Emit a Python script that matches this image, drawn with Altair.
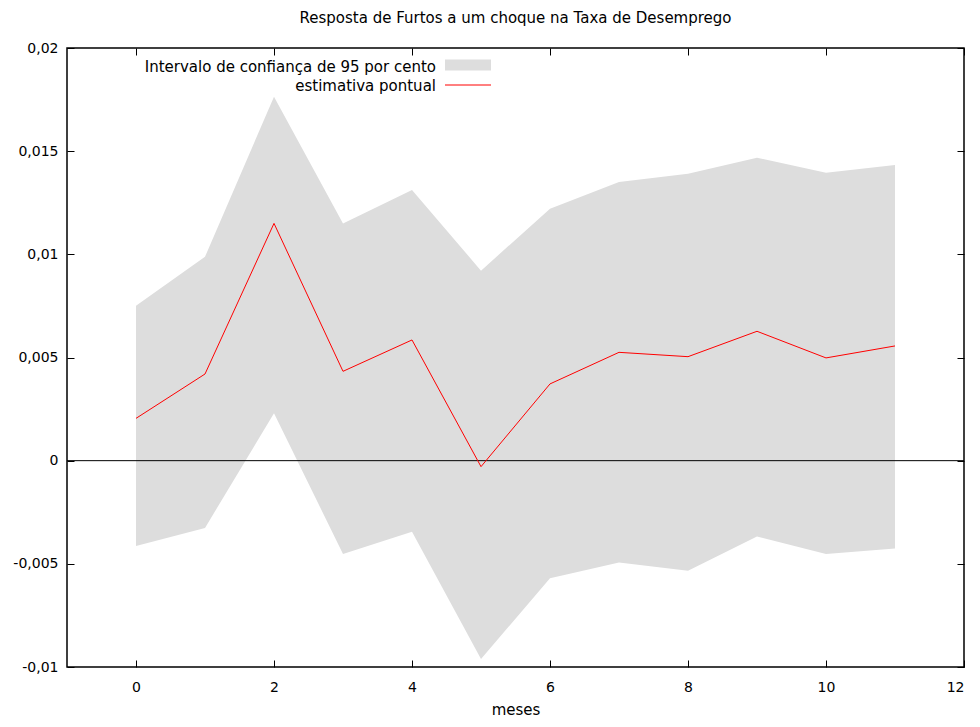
import altair as alt
import pandas as pd

meses = [0, 1, 2, 3, 4, 5, 6, 7, 8, 9, 10, 11]
estimativa = [0.00205, 0.00420, 0.01150, 0.00433, 0.00585, -0.00029,
              0.00372, 0.00525, 0.00504, 0.00627, 0.00498, 0.00556]
superior = [0.00751, 0.00988, 0.01764, 0.01150, 0.01312, 0.00921,
            0.01221, 0.01350, 0.01391, 0.01468, 0.01395, 0.01433]
inferior = [-0.00413, -0.00326, 0.00230, -0.00452, -0.00344, -0.00961,
            -0.00570, -0.00494, -0.00533, -0.00368, -0.00452, -0.00426]

x_ticks = [0, 2, 4, 6, 8, 10, 12]
y_ticks = [-0.01, -0.005, 0, 0.005, 0.01, 0.015, 0.02]
legend_labels = ["Intervalo de confiança de 95 por cento", "estimativa pontual"]

titulo = "Resposta de Furtos a um choque na Taxa de Desemprego"
xlabel = "meses"

FONT = "DejaVu Sans"
W, H = 897, 619

df = pd.DataFrame({"x": meses, "y": estimativa, "lo": inferior, "hi": superior})

xs = alt.Scale(domain=[-1, 12], nice=False, zero=False)
ys = alt.Scale(domain=[-0.01, 0.02], nice=False, zero=False)

label_expr = "replace(replace(format(datum.value, ''), '.', ','), '\u2212', '-')"

x_bottom = alt.Axis(values=x_ticks, orient="bottom", title=xlabel, grid=False, domain=False,
                    tickSize=7, offset=-7, labelPadding=13, labelFontSize=14,
                    labelFont=FONT, titleFont=FONT, titleFontSize=15, titleFontWeight="normal",
                    titlePadding=8, tickColor="black", labelColor="black", titleColor="black")
y_left = alt.Axis(values=y_ticks, orient="left", title=None, grid=False, domain=False,
                  tickSize=7, offset=-7, labelPadding=9, labelFontSize=14, labelFont=FONT,
                  labelExpr=label_expr, tickColor="black", labelColor="black")
x_top = alt.Axis(values=x_ticks, orient="top", title=None, grid=False, domain=False,
                 tickSize=7, offset=-7, labels=False, tickColor="black")
y_right = alt.Axis(values=y_ticks, orient="right", title=None, grid=False, domain=False,
                   tickSize=7, offset=-7, labels=False, tickColor="black")

band = alt.Chart(df).mark_area(color="#dddddd", opacity=1).encode(
    x=alt.X("x:Q", scale=xs, axis=x_bottom),
    y=alt.Y("lo:Q", scale=ys, axis=y_left),
    y2="hi:Q",
)

zero_df = pd.DataFrame({"z": [0]})
zero = alt.Chart(zero_df).mark_rule(color="black", strokeWidth=1).encode(
    y=alt.Y("z:Q", scale=ys, axis=None)
)

line = alt.Chart(df).mark_line(color="red", strokeWidth=1).encode(
    x=alt.X("x:Q", scale=xs, axis=x_top),
    y=alt.Y("y:Q", scale=ys, axis=y_right),
)

leg_df = pd.DataFrame({"label": legend_labels, "i": [0, 1]})
leg_text1 = alt.Chart(leg_df.iloc[[0]]).mark_text(align="right", baseline="alphabetic", fontSize=15,
                                                  font=FONT, color="black").encode(
    text="label:N", x=alt.value(369), y=alt.value(24))
leg_text2 = alt.Chart(leg_df.iloc[[1]]).mark_text(align="right", baseline="alphabetic", fontSize=15,
                                                  font=FONT, color="black").encode(
    text="label:N", x=alt.value(369), y=alt.value(43))
leg_rect = alt.Chart(leg_df.iloc[[0]]).mark_rect(color="#dddddd").encode(
    x=alt.value(378), x2=alt.value(424), y=alt.value(11.5), y2=alt.value(22.5))
leg_line = alt.Chart(leg_df.iloc[[1]]).mark_rule(color="red", strokeWidth=1).encode(
    x=alt.value(378), x2=alt.value(424), y=alt.value(37))

chart = alt.layer(band, zero, line, leg_rect, leg_line, leg_text1, leg_text2).resolve_axis(
    x="independent", y="independent"
).properties(
    width=W, height=H,
    title=alt.TitleParams(titulo, font=FONT, fontSize=15, fontWeight="normal", color="black",
                          anchor="middle", offset=15),
    autosize=alt.AutoSizeParams(type="none"),
    padding={"left": 59, "top": 40, "right": 8, "bottom": 52},
).configure_view(stroke="black", strokeWidth=1.5)

chart.save("out.html", embed_options={"renderer": "svg", "actions": False})
